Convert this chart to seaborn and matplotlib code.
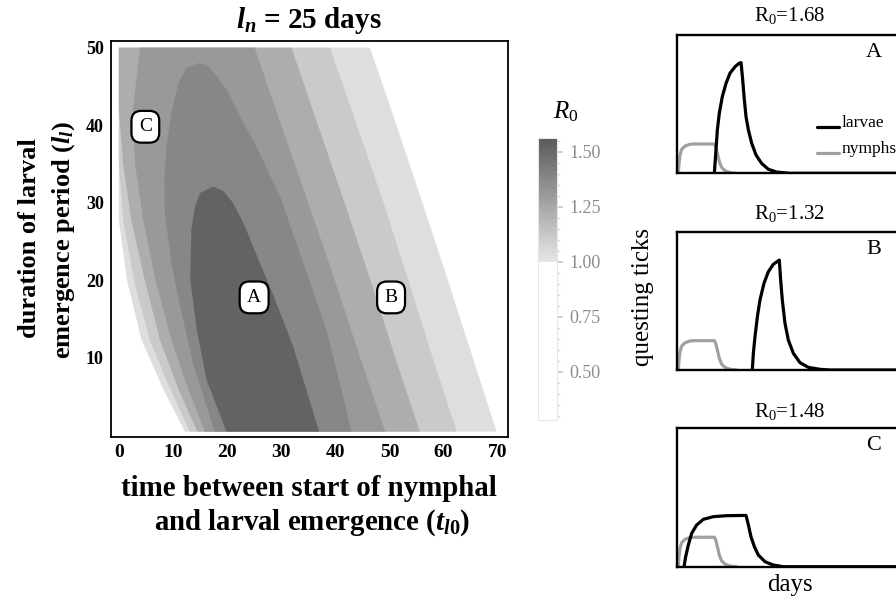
import numpy as np
import pandas as pd
import matplotlib
matplotlib.use("Agg")
import matplotlib.pyplot as plt
import seaborn as sns
from matplotlib.colors import LinearSegmentedColormap, Normalize
from matplotlib.cm import ScalarMappable
from matplotlib.ticker import MultipleLocator
from matplotlib.lines import Line2D
from matplotlib.legend_handler import HandlerLine2D

sns.set_theme(style="white")
plt.rcParams["font.family"] = ["Liberation Serif", "DejaVu Serif"]
plt.rcParams["text.color"] = "black"
plt.rcParams["axes.labelcolor"] = "black"
plt.rcParams["xtick.color"] = "black"
plt.rcParams["ytick.color"] = "black"
plt.rcParams["mathtext.fontset"] = "custom"
plt.rcParams["mathtext.rm"] = "Liberation Serif"
plt.rcParams["mathtext.it"] = "Liberation Serif:italic:bold"
plt.rcParams["mathtext.bf"] = "Liberation Serif:bold"
plt.rcParams["mathtext.sf"] = "Liberation Serif:italic"

# ---------------- data: R0 contour bands (t_l0 on x, l_l on y) ----------------
band_colors = ["#dddedd", "#c9cac9", "#acadac", "#989998", "#868786", "#636462"]

b1_left_l = [0.5, 6, 12.3, 20, 27.8, 50]
b1_left_t = [12.2, 8.2, 4.2, 1.5, 0, 0]
b1_right_l = [50, 40, 30, 20, 10, 0.5]
b1_right_t = [46.4, 51.3, 56.1, 60.8, 65.4, 69.8]

b2_left_l = [0.5, 6, 12.3, 20, 27.8, 35, 50]
b2_left_t = [13.1, 9.5, 5.7, 2.8, 0.8, 0, 0]
b2_right_l = [50, 40, 30, 20, 10, 0.5]
b2_right_t = [39.0, 44.0, 48.9, 53.5, 58.0, 62.4]

b3_left_l = [0.5, 6, 12.3, 20, 27.8, 35, 42, 50]
b3_left_t = [14.5, 11.0, 7.6, 4.8, 2.3, 0.8, 0, 0]
b3_right_l = [50, 40, 30, 20, 10, 0.5]
b3_right_t = [31.9, 36.8, 41.7, 46.5, 51.1, 55.6]

b4_left_l = [0.5, 6, 12.3, 20, 27.8, 35, 42, 50]
b4_left_t = [15.9, 12.8, 9.7, 6.8, 4.5, 3.0, 2.6, 3.9]
b4_right_l = [50, 40, 30, 20, 10, 0.5]
b4_right_t = [25.1, 30.0, 35.0, 39.9, 44.6, 49.2]

b5_left_l = [0.5, 9.3, 15.8, 22.2, 28.7, 33.0, 37.3, 41.6, 45.4, 47.4, 48.0]
b5_left_t = [17.7, 13.7, 11.6, 9.7, 8.5, 8.4, 8.8, 9.7, 11.0, 12.5, 14.7]
b5_right_l = [47.8, 46.7, 44.6, 41.1, 37.3, 30.8, 22.2, 13.6, 0.5]
b5_right_t = [16.2, 17.7, 19.9, 22.4, 25.4, 29.8, 34.1, 38.4, 43.0]

b6_left_l = [0.5, 7.2, 13.6, 20.1, 26.5, 29.5, 31.25, 32.1]
b6_left_t = [19.9, 16.2, 14.4, 13.2, 13.4, 14.05, 15.0, 17.4]
b6_right_l = [31.5, 30.0, 27.4, 24.4, 17.8, 11.5, 0.5]
b6_right_t = [19.3, 21.1, 23.0, 24.8, 28.7, 32.2, 37.0]

bands = [
    (b1_left_t, b1_left_l, b1_right_t, b1_right_l),
    (b2_left_t, b2_left_l, b2_right_t, b2_right_l),
    (b3_left_t, b3_left_l, b3_right_t, b3_right_l),
    (b4_left_t, b4_left_l, b4_right_t, b4_right_l),
    (b5_left_t, b5_left_l, b5_right_t, b5_right_l),
    (b6_left_t, b6_left_l, b6_right_t, b6_right_l),
]

point_names = ["A", "B", "C"]
point_t = [25.0, 50.3, 4.9]
point_l = [17.8, 17.8, 39.8]

x_ticks = [0, 10, 20, 30, 40, 50, 60, 70]
y_ticks = [10, 20, 30, 40, 50]

cbar_ticks = [0.50, 0.75, 1.00, 1.25, 1.50]
cbar_min, cbar_max = 0.28, 1.56

# ---------------- data: questing tick curves ----------------
nymph_days = [1.09, 1.53, 2.2, 3.31, 5.53, 8.87, 12.2, 25.1, 26.0, 27.1, 28.4, 29.9, 32.2, 35.5, 40.0]
nymph_q = [0.0, 0.072, 0.132, 0.173, 0.197, 0.21, 0.212, 0.212, 0.193, 0.145, 0.084, 0.043, 0.019, 0.005, 0.0]

larvA_days = [25.1, 27.1, 28.4, 30.4, 32.9, 35.5, 38.9, 41.5, 42.9, 44.0, 44.9, 46.2, 47.8, 50.0,
              52.9, 56.6, 61.1, 66.6, 75.5, 150.0]
larvA_q = [0.0, 0.313, 0.434, 0.554, 0.651, 0.723, 0.771, 0.795, 0.80, 0.675, 0.554, 0.41, 0.313, 0.217,
           0.132, 0.072, 0.029, 0.009, 0.0, 0.0]

larvB_days = [50.4, 51.1, 52.2, 53.8, 55.5, 58.2, 61.1, 64.4, 68.4, 69.3, 70.4, 72.2, 74.4, 77.8,
              82.2, 87.8, 95.5, 102.2, 150.0]
larvB_q = [0.0, 0.12, 0.241, 0.386, 0.506, 0.627, 0.711, 0.764, 0.795, 0.651, 0.506, 0.337, 0.217, 0.12,
           0.053, 0.019, 0.005, 0.0, 0.0]

larvC_days = [4.87, 5.98, 7.75, 9.98, 13.3, 17.8, 24.4, 33.3, 46.2, 47.8, 49.5, 51.8, 54.4, 58.9,
              64.4, 71.1, 150.0]
larvC_q = [0.0, 0.072, 0.156, 0.24, 0.30, 0.341, 0.36, 0.367, 0.369, 0.30, 0.216, 0.144, 0.084, 0.036,
           0.012, 0.0, 0.0]

panel_R0 = ["1.68", "1.32", "1.48"]

# ---------------- figure ----------------
W, H = 896, 606
fig = plt.figure(figsize=(W / 100, H / 100), dpi=100)
fig.patch.set_facecolor("white")


def rect(x0, y0, x1, y1):
    return [x0 / W, 1 - y1 / H, (x1 - x0) / W, (y1 - y0) / H]


def fx(px):
    return px / W


def fy(py):
    return 1 - py / H


class BaselineHandler(HandlerLine2D):
    """Legend line drawn at the text baseline (underscore style)."""

    def create_artists(self, legend, orig_handle, xdescent, ydescent, width, height, fontsize, trans):
        artists = super().create_artists(legend, orig_handle, xdescent, ydescent, width, height,
                                         fontsize, trans)
        for a in artists:
            yd = np.asarray(a.get_ydata(), dtype=float)
            a.set_ydata(yd - 0.5 * height)
        return artists


# main contour panel
ax = fig.add_axes(rect(110.7, 40.7, 508, 437))
for (lt, ll, rt, rl), col in zip(bands, band_colors):
    xs = list(lt) + list(rt)
    ys = list(ll) + list(rl)
    ax.fill(xs, ys, color=col, lw=0, zorder=1)

for name, t, l in zip(point_names, point_t, point_l):
    ax.text(t, l, name, ha="center", va="center", fontsize=14, zorder=5,
            bbox=dict(boxstyle="round,pad=0.38,rounding_size=0.5", fc="white", ec="black", lw=1.6))

ax.set_xlim(-1.5, 71.9)
ax.set_ylim(-0.2, 50.9)
ax.set_xticks(x_ticks)
ax.set_yticks(y_ticks)
ax.set_xticklabels([str(v) for v in x_ticks], fontweight="bold", fontsize=14)
ax.set_yticklabels([str(v) for v in y_ticks], fontweight="bold", fontsize=13)
ax.tick_params(axis="both", length=0, colors="black")
ax.tick_params(axis="x", pad=5)
ax.tick_params(axis="y", pad=5)
for s in ax.spines.values():
    s.set_visible(True)
    s.set_color("black")
    s.set_linewidth(1.3)
ax.set_facecolor("white")

fig.text(fx(309), fy(20), r"$\mathit{l}_\mathit{n}$ = 25 days", ha="center", va="center",
         fontsize=21, fontweight="bold")
fig.text(fx(308.5), fy(488), "time between start of nymphal", ha="center", va="center",
         fontsize=20.8, fontweight="bold")
fig.text(fx(312), fy(523), r"and larval emergence ($\mathit{t}_{\mathit{l}\mathbf{0}}$)", ha="center",
         va="center", fontsize=20.8, fontweight="bold")
fig.text(fx(30), fy(238), "duration of larval", ha="center", va="center", rotation=90,
         fontsize=19, fontweight="bold")
fig.text(fx(64), fy(240), r"emergence period ($\mathit{l}_\mathit{l}$)", ha="center", va="center",
         rotation=90, fontsize=19, fontweight="bold")

# colorbar
cmap = LinearSegmentedColormap.from_list(
    "r0",
    [(0.0, "#ffffff"), ((1.0 - cbar_min) / (cbar_max - cbar_min), "#ffffff"),
     ((1.001 - cbar_min) / (cbar_max - cbar_min), "#e6e6e6"), (1.0, "#5a5a5a")])
cax = fig.add_axes(rect(538.3, 138.3, 557.3, 420))
sm = ScalarMappable(norm=Normalize(cbar_min, cbar_max), cmap=cmap)
cb = fig.colorbar(sm, cax=cax, orientation="vertical")
cb.set_ticks(cbar_ticks)
cb.set_ticklabels([f"{v:.2f}" for v in cbar_ticks])
cb.ax.yaxis.set_minor_locator(MultipleLocator(0.05))
cb.ax.tick_params(which="major", length=4, color="#c8c8c8", labelcolor="#8c8c8c", labelsize=13, pad=5)
cb.ax.tick_params(which="minor", length=2, color="#d8d8d8")
cb.outline.set_edgecolor("#e6e6e6")
cb.outline.set_linewidth(0.8)
fig.text(fx(566), fy(112), r"$\mathsf{R}_0$", ha="center", va="center", fontsize=18)

# right panels
panel_rects = [(676.7, 35, 901.7, 173.3), (676.7, 231.7, 901.7, 370), (676.7, 427.7, 901.7, 566.7)]
larv_sets = [(larvA_days, larvA_q), (larvB_days, larvB_q), (larvC_days, larvC_q)]
title_y = [16, 214, 412]
letters = ["A", "B", "C"]
for i, (pr, (ld, lq)) in enumerate(zip(panel_rects, larv_sets)):
    pax = fig.add_axes(rect(*pr))
    ndf = pd.DataFrame({"days": nymph_days, "q": nymph_q})
    ldf = pd.DataFrame({"days": ld, "q": lq})
    sns.lineplot(data=ndf, x="days", y="q", ax=pax, color="#a0a0a0", lw=2.3, sort=False, estimator=None)
    sns.lineplot(data=ldf, x="days", y="q", ax=pax, color="black", lw=2.3, sort=False, estimator=None)
    pax.set_xlim(0, 150)
    pax.set_ylim(0, 1)
    pax.set_xticks([])
    pax.set_yticks([])
    pax.set_xlabel("")
    pax.set_ylabel("")
    for s in pax.spines.values():
        s.set_visible(True)
        s.set_color("black")
        s.set_linewidth(1.7)
    fig.text(fx(790), fy(title_y[i]), "R$_0$=" + panel_R0[i], ha="center", va="center", fontsize=15)
    pax.text(0.875, 0.873, letters[i], transform=pax.transAxes, ha="center", va="center", fontsize=16)
    if i == 0:
        handles = [Line2D([], [], color="black", lw=2.3), Line2D([], [], color="#a0a0a0", lw=2.3)]
        pax.legend(handles, ["larvae", "nymphs"], loc="upper left", bbox_to_anchor=(0.622, 0.42),
                   frameon=False, handlelength=1.3, handletextpad=0.15, labelspacing=0.55,
                   borderpad=0, borderaxespad=0, fontsize=12.5,
                   handler_map={Line2D: BaselineHandler()})

fig.text(fx(643), fy(297), "questing ticks", ha="center", va="center", rotation=90, fontsize=18)
fig.text(fx(790), fy(585), "days", ha="center", va="center", fontsize=18)

fig.savefig("out.png", dpi=100, facecolor="white")
